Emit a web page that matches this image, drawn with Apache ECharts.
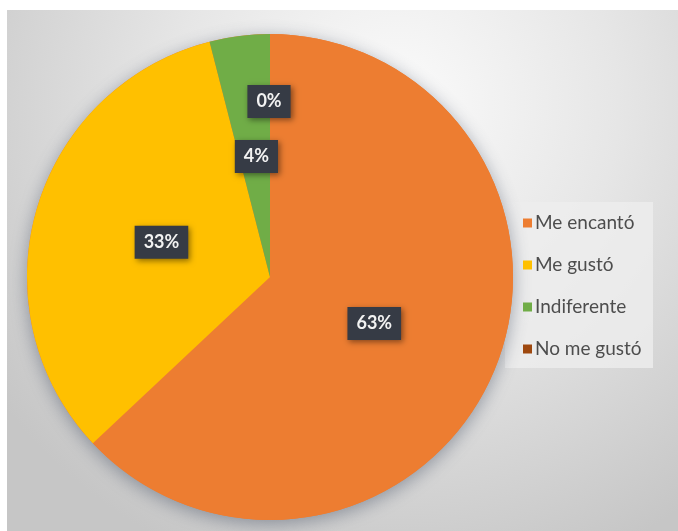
<!DOCTYPE html>
<html>
<head>
<meta charset="utf-8">
<script src="https://cdn.jsdelivr.net/npm/echarts@6/dist/echarts.min.js"></script>
<style>
  html, body { margin: 0; padding: 0; background: #ffffff; }
  #chart { width: 678px; height: 531px; }
</style>
</head>
<body>
<div id="chart"></div>
<script>
// Survey answers and their share of responses (%)
const categories = ['Me encantó', 'Me gustó', 'Indiferente', 'No me gustó'];
const shares = [63, 33, 4, 0];
const palette = ['#ED7D31', '#FFC000', '#70AD47', '#9E480E'];
// nudges for the value tags (px); the empty slice's tag sits above the 4% one
const tagOffsets = [[-10, -3], [11, 0], [2, 3], [-1, -51]];

const chart = echarts.init(document.getElementById('chart'), null, { renderer: 'canvas' });

const labelBox = {
  show: true,
  position: 'inside',
  formatter: '{c}%',
  color: '#f2f2f2',
  fontFamily: 'Lato, "Open Sans", sans-serif',
  fontWeight: 'bold',
  fontSize: 18,
  lineHeight: 19,
  backgroundColor: '#363b45',
  padding: [7, 9],
  shadowColor: 'rgba(0,0,0,0.45)',
  shadowBlur: 6,
  shadowOffsetX: 2,
  shadowOffsetY: 2
};

const sliceData = categories.map((name, i) => ({
  name: name,
  value: shares[i],
  itemStyle: { color: palette[i] },
  label: { offset: tagOffsets[i] }
}));

chart.setOption({
  backgroundColor: '#ffffff',
  animation: false,
  graphic: [
    {
      type: 'rect',
      z: -10,
      shape: { x: 7, y: 10, width: 671, height: 521 },
      style: {
        fill: {
          type: 'radial', x: 0.58, y: 0.18, r: 0.95,
          colorStops: [
            { offset: 0, color: '#fbfbfb' },
            { offset: 0.45, color: '#e6e6e6' },
            { offset: 1, color: '#c6c6c6' }
          ]
        }
      }
    },
    {
      type: 'rect',
      z: -5,
      shape: { x: 505, y: 202, width: 148, height: 166 },
      style: { fill: 'rgba(238,238,238,0.8)' }
    }
  ],
  legend: {
    data: categories,
    orient: 'vertical',
    left: 518,
    top: 207,
    itemWidth: 9,
    itemHeight: 9,
    itemGap: 20,
    icon: 'rect',
    textStyle: {
      color: '#4d4d4d',
      fontSize: 19,
      lineHeight: 22,
      fontFamily: 'Lato, "Open Sans", sans-serif',
      padding: [0, 0, 0, -2]
    }
  },
  series: [
    {
      // soft drop shadow under the whole disc
      type: 'pie',
      silent: true,
      center: [270, 277],
      radius: 243,
      z: 1,
      label: { show: false },
      labelLine: { show: false },
      itemStyle: {
        color: '#ED7D31',
        shadowColor: 'rgba(70,80,100,0.5)',
        shadowBlur: 18,
        shadowOffsetY: 4
      },
      data: [{ name: '', value: 1 }],
      tooltip: { show: false }
    },
    {
      type: 'pie',
      center: [270, 277],
      radius: 243,
      z: 2,
      startAngle: 90,
      clockwise: true,
      avoidLabelOverlap: false,
      minShowLabelAngle: 0,
      stillShowZeroSum: true,
      itemStyle: { borderWidth: 0 },
      label: labelBox,
      labelLine: { show: false },
      emphasis: { disabled: true },
      data: sliceData
    }
  ]
});
</script>
</body>
</html>
